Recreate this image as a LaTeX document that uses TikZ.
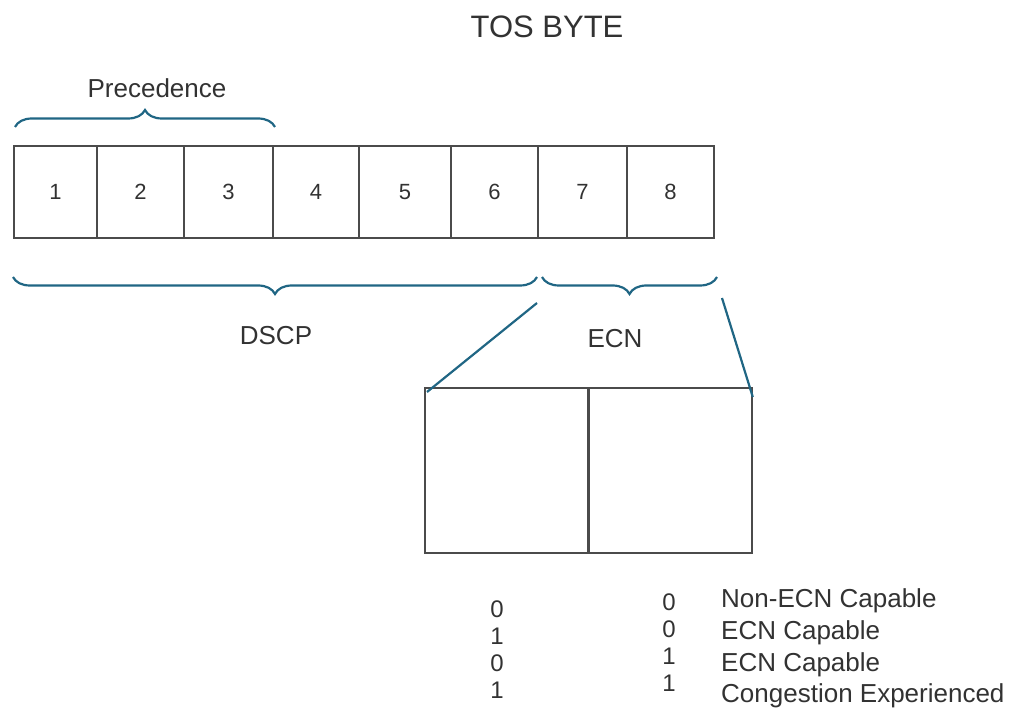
\documentclass[tikz,border=0pt]{standalone}
\usepackage{fontspec}
\setmainfont{Liberation Sans}
\usetikzlibrary{decorations.pathreplacing}
\definecolor{teal1}{RGB}{32,102,132}
\definecolor{boxline}{RGB}{75,75,75}
\definecolor{txt}{RGB}{50,50,50}
\begin{document}
\begin{tikzpicture}[x=1pt,y=-1pt,
  cell/.style={draw=boxline, line width=1.8pt, minimum height=92pt, inner sep=0pt, text=txt, font=\fontsize{22}{26}\selectfont, anchor=north west},
  half/.style={draw=boxline, line width=1.8pt, minimum width=163pt, minimum height=165pt, inner sep=0pt, anchor=north west},
  lbl/.style={text=txt, font=\fontsize{26}{30}\selectfont, inner sep=0pt},
  brc/.style={draw=teal1, line width=2.2pt, decorate, decoration={brace, amplitude=17pt}},
  conn/.style={draw=teal1, line width=2.2pt},
  dig/.style={text=txt, font=\fontsize{24}{24}\selectfont, inner sep=0pt, anchor=base},
  desc/.style={text=txt, font=\fontsize{26}{26}\selectfont, inner sep=0pt, anchor=base west}]
\useasboundingbox (0,0) rectangle (1014,708);
\node[lbl, font=\fontsize{31}{34}\selectfont] (title) at (547,27) {TOS BYTE};
\node[lbl] (prec) at (157,88) {Precedence};
\foreach \i/\a/\b in {1/13/96, 2/96/183, 3/183/272, 4/272/358, 5/358/450, 6/450/537, 7/537/626, 8/626/713}{
  \node[cell, minimum width={(\b-\a)*1pt}] (c\i) at (\a,145) {\raisebox{-4pt}{\i}};
}
\coordinate (pa) at (15,127);
\coordinate (pb) at (275,127);
\draw[brc] (pa) -- (pb);
\coordinate (da) at (537,277);
\coordinate (db) at (13,277);
\draw[brc] (da) -- (db);
\coordinate (ea) at (717,277);
\coordinate (eb) at (542,277);
\draw[brc] (ea) -- (eb);
\node[lbl] (dscp) at (276,336) {DSCP};
\node[lbl] (ecn) at (615,339) {ECN};
\node[half] (h1) at (424,387) {};
\node[half] (h2) at (588,387) {};
\coordinate (l1) at (537,303);
\coordinate (r1) at (722,298);
\draw[conn] (l1) -- ([xshift=3pt,yshift=-5pt]h1.north west);
\draw[conn] (r1) -- ([yshift=-10pt]h2.north east);
\node[dig] (a1) at (497,617) {0};
\node[dig] (a2) at (497,644) {1};
\node[dig] (a3) at (497,671) {0};
\node[dig] (a4) at (497,698) {1};
\node[dig] (b1) at (669,610) {0};
\node[dig] (b2) at (669,637) {0};
\node[dig] (b3) at (669,664) {1};
\node[dig] (b4) at (669,691) {1};
\node[desc] (d1) at (721,607) {Non-ECN Capable};
\node[desc] (d2) at (721,639) {ECN Capable};
\node[desc] (d3) at (721,671) {ECN Capable};
\node[desc] (d4) at (721,702) {Congestion Experienced};
\end{tikzpicture}
\end{document}
